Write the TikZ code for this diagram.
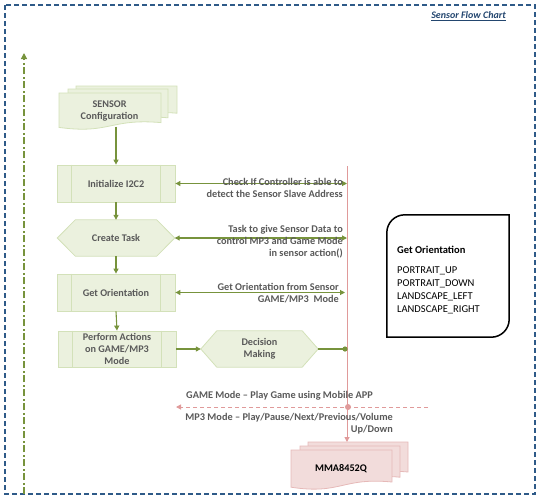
\documentclass[tikz,border=0pt]{standalone}
\usepackage{fontspec}
\setmainfont{Carlito}
\usetikzlibrary{arrows.meta,backgrounds}
\definecolor{gfill}{HTML}{EBF1DE}
\definecolor{gline}{HTML}{D3E1B9}
\definecolor{garr}{HTML}{77933C}
\definecolor{gtext}{HTML}{595959}
\definecolor{pfill}{HTML}{F2DCDB}
\definecolor{pline}{HTML}{E6B9B8}
\definecolor{parr}{HTML}{E09A9A}
\definecolor{bord}{HTML}{2E5A88}
\definecolor{ttl}{HTML}{23466F}
% #1 style, #2 left x, #3 top y, #4 width, #5 height
\newcommand{\docpath}[5]{%
  \draw[#1] (#2,#3) -- ({#2+#4},#3) -- ({#2+#4},{#3+0.8*#5})
    .. controls ({#2+0.5*#4},{#3+0.68*#5}) and ({#2+0.5*#4},{#3+1.12*#5}) .. (#2,{#3+0.93*#5}) -- cycle;}
\begin{document}
\begin{tikzpicture}[x=1pt,y=-1pt,
  ft/.style={font=\bfseries\fontsize{10.2}{12}\selectfont, text=gtext, align=center, inner sep=0pt},
  lbl/.style={font=\bfseries\fontsize{10.3}{12}\selectfont, text=gtext, align=right, inner sep=0pt},
  proc/.style={ft, draw=gline, fill=gfill, line width=0.8pt, minimum width=118pt, minimum height=37pt},
  hexnode/.style={ft, minimum width=117pt, minimum height=36pt},
  hexfill/.style={draw=gline, fill=gfill, line width=0.8pt},
  inner/.style={draw=gline, line width=0.8pt},
  gdoc/.style={fill=gfill, draw=gline, line width=0.8pt},
  pdoc/.style={fill=pfill, draw=pline, line width=0.8pt},
  garrow/.style={draw=garr, line width=1.1pt, -{Triangle[length=5pt,width=5pt]}},
  gdbl/.style={draw=garr, line width=1.1pt, {Triangle[length=5pt,width=5pt]}-{Triangle[length=5pt,width=5pt]}},
  gline2/.style={draw=garr, line width=1.1pt},
  parrow/.style={draw=parr, line width=1pt, -{Triangle[length=5pt,width=5pt]}},
  pdash/.style={draw=parr, line width=1pt, dash pattern=on 4pt off 3pt, -{Triangle[length=5pt,width=5pt]}},
  gdd/.style={draw=garr, line width=1.2pt, dash pattern=on 7pt off 2.5pt on 2pt off 2.5pt, -{Triangle[length=6pt,width=6pt]}},
  bordline/.style={draw=bord, line width=2pt, dash pattern=on 5pt off 3pt},
  obox/.style={draw=black, line width=1.5pt}
]
\useasboundingbox (0,0) rectangle (541,501);

% outer border and title
\draw[bordline] (5,5) rectangle (535,494);
\node[anchor=east, inner sep=0pt, font=\bfseries\itshape\fontsize{10}{12}\selectfont, text=ttl] (title) at (506,16) {\underline{Sensor Flow Chart}};

% left dash-dot line
\coordinate (gb) at (24,494);
\coordinate (gt) at (24,53);
\draw[gdd] (gb) -- (gt);

% SENSOR configuration (multi-document)
\docpath{gdoc}{76}{86}{101}{34}
\docpath{gdoc}{68}{89}{100}{36}
\docpath{gdoc}{59}{93}{102}{37}
\node[ft] (cfg) at (109.5,111) {SENSOR\\Configuration};
\coordinate (cfgout) at (116,126.5);

% process boxes
\node[proc] (init) at (116,183.5) {Initialize I2C2};
\draw[inner] ([xshift=15pt]init.north west) -- ([xshift=15pt]init.south west);
\draw[inner] ([xshift=-15pt]init.north east) -- ([xshift=-15pt]init.south east);

\node[hexnode] (ct) at (116,238) {Create Task};

\node[proc] (gor) at (116,292.5) {Get Orientation};
\draw[inner] ([xshift=15pt]gor.north west) -- ([xshift=15pt]gor.south west);
\draw[inner] ([xshift=-15pt]gor.north east) -- ([xshift=-15pt]gor.south east);

\node[proc, minimum height=36pt] (perf) at (117,349) {Perform Actions\\on GAME/MP3\\Mode};
\draw[inner] ([xshift=15pt]perf.north west) -- ([xshift=15pt]perf.south west);
\draw[inner] ([xshift=-15pt]perf.north east) -- ([xshift=-15pt]perf.south east);

\node[hexnode] (dec) at (259.5,349) {Decision\\Making};

\begin{pgfonlayer}{background}
  \draw[hexfill] (ct.west) -- ([xshift=18pt]ct.north west) -- ([xshift=-18pt]ct.north east) -- (ct.east)
    -- ([xshift=-18pt]ct.south east) -- ([xshift=18pt]ct.south west) -- cycle;
  \draw[hexfill] (dec.west) -- ([xshift=16pt]dec.north west) -- ([xshift=-16pt]dec.north east) -- (dec.east)
    -- ([xshift=-16pt]dec.south east) -- ([xshift=16pt]dec.south west) -- cycle;
\end{pgfonlayer}

% MMA8452Q (multi-document)
\docpath{pdoc}{308}{442}{100}{37.5}
\docpath{pdoc}{300}{446}{100}{39}
\docpath{pdoc}{291}{450}{101}{40}
\node[inner sep=0pt, font=\bfseries\fontsize{10.2}{12}\selectfont, text=black] (mma) at (341,469) {MMA8452Q};

% pink vertical line
\coordinate (ptop) at (347,166);
\coordinate (ptip) at (347,442);
\draw[parrow] (ptop) -- (ptip);

% green flow arrows
\draw[garrow] (cfgout) -- (init.north);
\draw[garrow] (init.south) -- (ct.north);
\draw[garrow] (ct.south) -- (gor.north);
\draw[garrow] (gor.south) -- (perf.north);
\draw[garrow] (perf.east) -- (dec.west);
\coordinate (gdot) at (345,349);
\draw[gline2] (dec.east) -- (gdot);
\fill[garr] (gdot) circle (2.6pt);

\draw[gdbl] (init.east) -- (init.east -| ptop);
\draw[gdbl] (ct.east) -- (ct.east -| ptop);
\draw[gdbl] (gor.east) -- ([xshift=-2pt]gor.east -| ptop);

% labels
\node[lbl, anchor=east] (l1) at (343,188) {Check If Controller is able to\\detect the Sensor Slave Address};
\node[lbl, anchor=east] (l2) at (343,242) {Task to give Sensor Data to\\control MP3 and Game Mode\\in sensor action()};
\node[lbl, anchor=east] (l3) at (339,293) {Get Orientation from Sensor\\GAME/MP3~~Mode};

% pink dashed
\coordinate (pr) at (428,407);
\coordinate (pl) at (176,407);
\draw[pdash] (pr) -- (pl);
\coordinate (pdot) at (348,407);
\fill[parr] (pdot) circle (3pt);
\node[lbl, anchor=west] (l4) at (186,396) {GAME Mode – Play Game using Mobile APP};
\node[lbl, anchor=east] (l5) at (393,423.5) {MP3 Mode – Play/Pause/Next/Previous/Volume\\Up/Down};

% Get Orientation box
\node[minimum width=122pt, minimum height=122pt, inner sep=0pt] (gobox) at (448,276) {};
\draw[obox] (gobox.south west) -- ([yshift=-18pt]gobox.north west)
  .. controls ([yshift=-8pt]gobox.north west) and ([xshift=8pt]gobox.north west) .. ([xshift=18pt]gobox.north west)
  -- (gobox.north east) -- ([yshift=18pt]gobox.south east)
  .. controls ([yshift=8pt]gobox.south east) and ([xshift=-8pt]gobox.south east) .. ([xshift=-18pt]gobox.south east)
  -- cycle;
\node[anchor=west, inner sep=0pt, align=left, font=\fontsize{10.5}{13.3}\selectfont, text=black] (got) at (397,280)
  {\textbf{Get Orientation}\\[6.7pt]PORTRAIT\_UP\\PORTRAIT\_DOWN\\LANDSCAPE\_LEFT\\LANDSCAPE\_RIGHT};
\end{tikzpicture}
\end{document}
